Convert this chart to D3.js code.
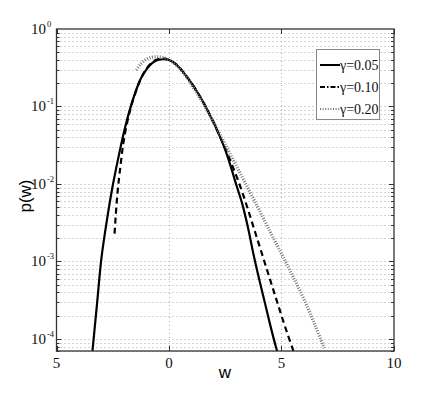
<!DOCTYPE html>
<html>
<head>
<meta charset="utf-8">
<script src="https://cdn.jsdelivr.net/npm/d3@7"></script>
<style>
  body { margin: 0; background: #fff; }
  svg { display: block; }
</style>
</head>
<body>
<div id="chart"></div>
<script>
// values
var legendLabels = ["γ=0.05", "γ=0.10", "γ=0.20"];

var wA = [-3.45, -3.2, -3.0, -2.75, -2.5, -2.25, -2.0, -1.75, -1.5, -1.25, -1.0, -0.75, -0.5, -0.25, 0, 0.25, 0.5, 0.75, 1.0, 1.25, 1.5, 1.75, 2.0, 2.25, 2.5, 2.75, 3.0, 3.25, 3.5, 3.75, 4.0, 4.25, 4.5, 4.75, 4.9];
var pA = [5.0e-5, 2.82e-4, 1.12e-3, 3.55e-3, 9.55e-3, 0.0219, 0.0468, 0.0891, 0.151, 0.229, 0.302, 0.363, 0.398, 0.407, 0.398, 0.363, 0.309, 0.251, 0.200, 0.155, 0.117, 0.0851, 0.0603, 0.0417, 0.0275, 0.0166, 0.00955, 0.00562, 0.00282, 0.00126, 6.03e-4, 3.02e-4, 1.51e-4, 7.94e-5, 5.62e-5];

var wB = [-2.42, -2.3, -2.15, -2.0, -1.75, -1.5, -1.25, -1.0, -0.75, -0.5, -0.25, 0, 0.25, 0.5, 0.75, 1.0, 1.25, 1.5, 1.75, 2.0, 2.25, 2.5, 2.75, 3.0, 3.25, 3.5, 3.75, 4.0, 4.25, 4.5, 4.75, 5.0, 5.25, 5.5, 5.6];
var pB = [2.29e-3, 7.08e-3, 0.0178, 0.0380, 0.0851, 0.148, 0.229, 0.309, 0.372, 0.407, 0.417, 0.398, 0.363, 0.309, 0.251, 0.200, 0.155, 0.117, 0.0851, 0.0603, 0.0417, 0.0288, 0.0191, 0.0126, 0.00794, 0.00479, 0.00282, 0.00166, 9.77e-4, 5.75e-4, 3.39e-4, 2.0e-4, 1.20e-4, 7.41e-5, 6.03e-5];

var wC = [-1.45, -1.25, -1.0, -0.75, -0.5, -0.25, 0, 0.25, 0.5, 0.75, 1.0, 1.25, 1.5, 1.75, 2.0, 2.25, 2.5, 2.75, 3.0, 3.25, 3.5, 3.75, 4.0, 4.5, 5.0, 5.5, 6.0, 6.5, 6.9];
var pC = [0.295, 0.355, 0.407, 0.432, 0.437, 0.427, 0.398, 0.355, 0.302, 0.245, 0.191, 0.148, 0.112, 0.0832, 0.0617, 0.0447, 0.0324, 0.0234, 0.0170, 0.0123, 0.00891, 0.00646, 0.00468, 0.00240, 0.00126, 6.46e-4, 3.24e-4, 1.48e-4, 7.59e-5];

var xTicks = [-5, 0, 5, 10];
var xTickLabels = ["5", "0", "5", "10"];
var yDecades = [0, -1, -2, -3, -4];

var width = 436, height = 395;
var pLeft = 56.5, pRight = 394, pTop = 29, pBottom = 351;

var svg = d3.select("#chart").append("svg")
  .attr("width", width)
  .attr("height", height);

var x = d3.scaleLinear().domain([-5, 10]).range([pLeft, pRight]);
var y = d3.scaleLog().domain([7e-5, 1]).range([pBottom, pTop]);

// minor + major grid values
var gridVals = [];
for (var k = -5; k < 0; k++) {
  for (var m = 1; m <= 9; m++) {
    var v = m * Math.pow(10, k);
    if (v >= 7e-5 && v < 1) gridVals.push(v);
  }
}

svg.append("g").selectAll("line.hg")
  .data(gridVals)
  .enter().append("line")
  .attr("x1", pLeft).attr("x2", pRight)
  .attr("y1", function(d){ return Math.round(y(d)) + 0.5 })
  .attr("y2", function(d){ return Math.round(y(d)) + 0.5 })
  .attr("stroke", "#aaa")
  .attr("stroke-width", 1)
  .attr("stroke-dasharray", "1,3");

svg.append("g").selectAll("line.vg")
  .data([0, 5])
  .enter().append("line")
  .attr("x1", function(d){ return Math.round(x(d)) + 0.5 })
  .attr("x2", function(d){ return Math.round(x(d)) + 0.5 })
  .attr("y1", pTop).attr("y2", pBottom)
  .attr("stroke", "#aaa")
  .attr("stroke-width", 1)
  .attr("stroke-dasharray", "1,3");

// ticks (inside)
var tk = svg.append("g").attr("stroke", "#333").attr("stroke-width", 1);
gridVals.forEach(function(v){
  var isMajor = Math.abs(Math.log10(v) - Math.round(Math.log10(v))) < 1e-9;
  var len = isMajor ? 5 : 3;
  var yy = Math.round(y(v)) + 0.5;
  tk.append("line").attr("x1", pLeft).attr("x2", pLeft + len).attr("y1", yy).attr("y2", yy);
  tk.append("line").attr("x1", pRight).attr("x2", pRight - len).attr("y1", yy).attr("y2", yy);
});
xTicks.forEach(function(t){
  var xx = Math.round(x(t)) + 0.5;
  tk.append("line").attr("x1", xx).attr("x2", xx).attr("y1", pBottom).attr("y2", pBottom - 5);
  tk.append("line").attr("x1", xx).attr("x2", xx).attr("y1", pTop).attr("y2", pTop + 5);
});

// curves
svg.append("defs").append("clipPath").attr("id", "plotclip")
  .append("rect").attr("x", pLeft).attr("y", pTop)
  .attr("width", pRight - pLeft).attr("height", pBottom - pTop);

var line = d3.line()
  .x(function(d){ return x(d[0]) })
  .y(function(d){ return y(d[1]) })
  .curve(d3.curveCatmullRom);

var series = [
  { w: wA, p: pA, dash: null, color: "#000", sw: 2.2 },
  { w: wB, p: pB, dash: "6,4", color: "#000", sw: 2.2 },
  { w: wC, p: pC, dash: "1,1.6", color: "#777", sw: 3.2 }
];

var plot = svg.append("g").attr("clip-path", "url(#plotclip)");
series.forEach(function(s){
  var pts = s.w.map(function(w, i){ return [w, s.p[i]] });
  plot.append("path")
    .attr("d", line(pts))
    .attr("fill", "none")
    .attr("stroke", s.color)
    .attr("stroke-width", s.sw)
    .attr("stroke-dasharray", s.dash);
});

// frame
svg.append("rect")
  .attr("x", pLeft).attr("y", pTop)
  .attr("width", pRight - pLeft).attr("height", pBottom - pTop)
  .attr("fill", "none")
  .attr("stroke", "#333")
  .attr("stroke-width", 1.3);

// y tick labels
var ylab = svg.append("g")
  .attr("font-family", "'Liberation Serif', 'Times New Roman', serif")
  .attr("fill", "#111");
yDecades.forEach(function(e){
  ylab.append("text")
    .attr("x", 46)
    .attr("y", y(Math.pow(10, e)) + 5)
    .attr("text-anchor", "end")
    .attr("font-size", 15)
    .text("10");
  ylab.append("text")
    .attr("x", 47)
    .attr("y", y(Math.pow(10, e)) - 2)
    .attr("font-size", 8.5)
    .text(e === 0 ? "0" : "-" + Math.abs(e));
});

// x tick labels
svg.append("g").selectAll("text")
  .data(xTicks)
  .enter().append("text")
  .attr("x", function(d){ return x(d) })
  .attr("y", 368)
  .attr("text-anchor", "middle")
  .attr("font-family", "'Liberation Serif', 'Times New Roman', serif")
  .attr("font-size", 15)
  .attr("fill", "#111")
  .text(function(d, i){ return xTickLabels[i] });

// axis titles
svg.append("text")
  .attr("x", 225).attr("y", 378)
  .attr("text-anchor", "middle")
  .attr("font-family", "'Liberation Sans', Arial, sans-serif")
  .attr("font-size", 17)
  .text("w");

svg.append("text")
  .attr("transform", "translate(31,196) rotate(-90)")
  .attr("text-anchor", "middle")
  .attr("font-family", "'Liberation Sans', Arial, sans-serif")
  .attr("font-size", 17)
  .text("p(w)");

// legend
var lg = svg.append("g");
lg.append("rect")
  .attr("x", 316.5).attr("y", 49.5)
  .attr("width", 63).attr("height", 70)
  .attr("fill", "#fff")
  .attr("stroke", "#888")
  .attr("stroke-width", 1);

var legendDash = [null, "5,2,1.5,2", "1,1.6"];
legendLabels.forEach(function(lab, i){
  var ly = 65 + i * 22;
  lg.append("line")
    .attr("x1", 320).attr("x2", 340)
    .attr("y1", ly).attr("y2", ly)
    .attr("stroke", series[i].color)
    .attr("stroke-width", i === 2 ? 2 : 2)
    .attr("stroke-dasharray", legendDash[i]);
  lg.append("text")
    .attr("x", 340).attr("y", ly + 5)
    .attr("font-family", "'Liberation Serif', 'Times New Roman', serif")
    .attr("font-size", 14)
    .attr("fill", "#111")
    .text(lab);
});
</script>
</body>
</html>
